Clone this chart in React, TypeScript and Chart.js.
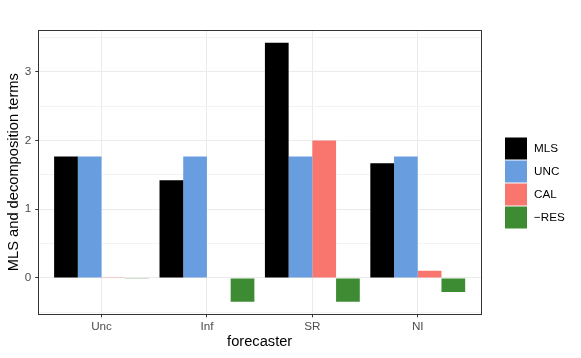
import React, { useEffect, useRef } from 'react';
import { Chart, registerables } from 'chart.js';
Chart.register(...registerables);

const forecasters = ['Unc', 'Inf', 'SR', 'NI'];
const seriesLabels = ['MLS', 'UNC', 'CAL', '\u2212RES'];
const mlsValues = [1.766, 1.421, 3.421, 1.668];
const uncValues = [1.766, 1.766, 1.766, 1.766];
const calValues = [0.005, 0, 2.0, 0.106];
const resValues = [-0.005, -0.345, -0.345, -0.204];
const seriesColors = ['#000000', '#689EDF', '#F8766D', '#3D8B33'];
const yTickValues = [-0.5, 0, 0.5, 1, 1.5, 2, 2.5, 3, 3.5];

const W = 581;
const H = 358;
const FONT = '"Liberation Sans", Arial, Helvetica, sans-serif';

export default function App() {
  const ref = useRef<HTMLCanvasElement | null>(null);
  useEffect(() => {
    const canvas = ref.current;
    if (!canvas) return;
    const allSeries = [mlsValues, uncValues, calValues, resValues];
    const isMajor = (v: number) => Math.abs(v - Math.round(v)) < 1e-9;

    const borderPlugin = {
      id: 'panelBorderLegend',
      afterDraw(chart: any) {
        const { ctx, chartArea } = chart;
        ctx.save();
        ctx.strokeStyle = '#333333';
        ctx.lineWidth = 1;
        ctx.strokeRect(
          Math.round(chartArea.left) + 0.5,
          Math.round(chartArea.top) + 0.5,
          Math.round(chartArea.right) - Math.round(chartArea.left),
          Math.round(chartArea.bottom) - Math.round(chartArea.top)
        );
        // legend
        const kx = 504.5;
        const ky = 137;
        const ks = 23;
        chart.data.datasets.forEach((ds: any, i: number) => {
          ctx.fillStyle = ds.backgroundColor;
          ctx.fillRect(kx + 0.5, ky + i * ks + 0.5, ks - 1, ks - 1);
          ctx.fillStyle = '#000000';
          ctx.font = `11.7px ${FONT}`;
          ctx.textBaseline = 'middle';
          ctx.textAlign = 'left';
          ctx.fillText(ds.label, 534, ky + i * ks + ks / 2);
        });
        ctx.restore();
      },
    };

    const chart = new Chart(canvas, {
      type: 'bar',
      data: {
        datasets: allSeries.map((vals, i) => ({
          label: seriesLabels[i],
          data: vals.map((v, j) => ({ x: j + 1, y: v })),
          backgroundColor: seriesColors[i],
          borderWidth: 0,
          categoryPercentage: 0.9,
          barPercentage: 1.0,
        })),
      },
      options: {
        animation: false,
        responsive: false,
        maintainAspectRatio: false,
        layout: { padding: { left: 0, top: 30, right: 100, bottom: 0 } },
        plugins: { legend: { display: false }, tooltip: { enabled: false } },
        scales: {
          x: {
            type: 'linear',
            min: 0.4,
            max: 4.6,
            offset: false,
            afterBuildTicks: (s: any) => {
              s.ticks = forecasters.map((_, i) => ({ value: i + 1 }));
            },
            afterFit: (s: any) => {
              s.height = H - 314.3;
            },
            ticks: {
              callback: (v: any) => forecasters[Math.round(Number(v)) - 1] ?? '',
              font: { family: FONT, size: 11.7 },
              color: '#4D4D4D',
              padding: 2,
              autoSkip: false,
              maxRotation: 0,
            },
            grid: {
              offset: false,
              color: '#EBEBEB',
              lineWidth: 1,
              tickColor: '#333333',
              tickLength: 3,
              tickWidth: 1,
            },
            border: { display: false },
            title: {
              display: true,
              text: 'forecaster',
              color: '#000000',
              font: { family: FONT, size: 14.67 },
              padding: { top: 0, bottom: 7 },
            },
          },
          y: {
            type: 'linear',
            min: -0.528,
            max: 3.606,
            afterBuildTicks: (s: any) => {
              s.ticks = yTickValues.map((v) => ({ value: v }));
            },
            afterFit: (s: any) => {
              s.width = 38.3;
            },
            ticks: {
              callback: (v: any) => (isMajor(Number(v)) ? String(Math.round(Number(v))) : ''),
              font: { family: FONT, size: 11.7 },
              color: '#4D4D4D',
              padding: 4,
              autoSkip: false,
            },
            grid: {
              color: (c: any) => (c.tick && isMajor(c.tick.value) ? '#EBEBEB' : '#F3F3F3'),
              lineWidth: (c: any) => (c.tick && isMajor(c.tick.value) ? 1 : 1),
              tickColor: (c: any) => (c.tick && isMajor(c.tick.value) ? '#333333' : 'rgba(0,0,0,0)'),
              tickLength: 3,
              tickWidth: 1,
            },
            border: { display: false },
            title: {
              display: true,
              text: 'MLS and decomposition terms',
              color: '#000000',
              font: { family: FONT, size: 14.67 },
              padding: { top: 5, bottom: 0 },
            },
          },
        },
      },
      plugins: [borderPlugin],
    } as any);
    return () => chart.destroy();
  }, []);

  return (
    <div style={{ position: 'absolute', left: 0, top: 0, width: W, height: H, background: '#ffffff' }}>
      <canvas ref={ref} width={W} height={H} style={{ display: 'block', width: W, height: H }} />
    </div>
  );
}
